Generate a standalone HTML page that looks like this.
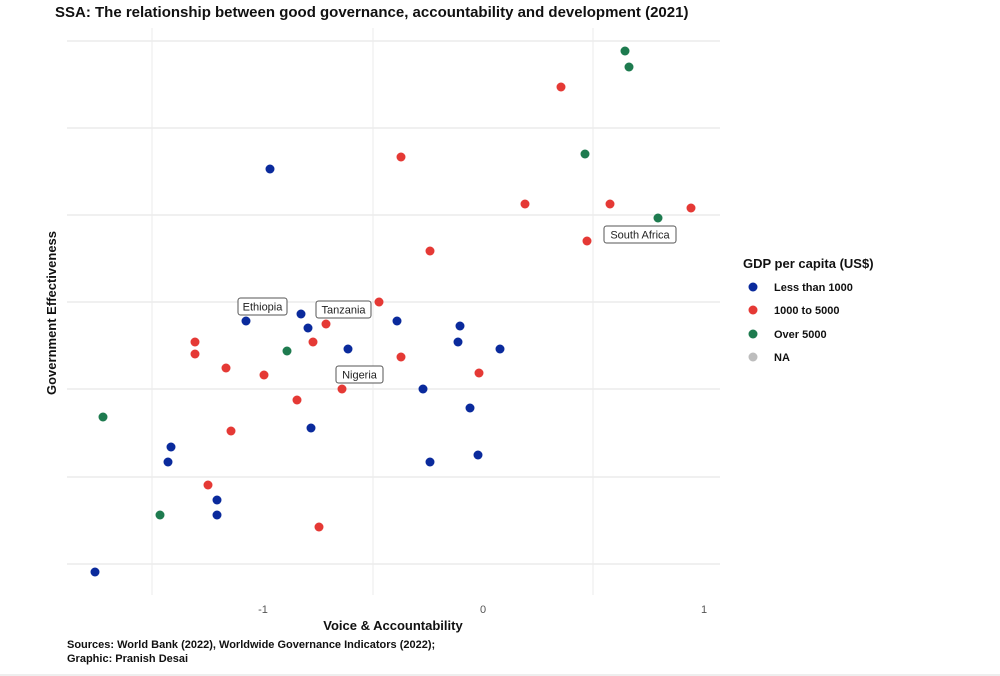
<!DOCTYPE html>
<html><head><style>body{margin:0;background:#fff;}svg{display:block;font-family:"Liberation Sans",Arial,sans-serif;}</style></head><body>
<svg width="1000" height="676" viewBox="0 0 1000 676" xmlns="http://www.w3.org/2000/svg">
<rect width="1000" height="676" fill="#fff"/>
<text x="55" y="17" font-size="15" font-weight="bold" fill="#111">SSA: The relationship between good governance, accountability and development (2021)</text>
<g stroke="#ebebeb" stroke-width="1">
<line x1="152" y1="28" x2="152" y2="595"/><line x1="373" y1="28" x2="373" y2="595"/><line x1="593" y1="28" x2="593" y2="595"/>
</g>
<g stroke="#ececec" stroke-width="1.5">
<line x1="67" y1="41" x2="720" y2="41"/><line x1="67" y1="128" x2="720" y2="128"/><line x1="67" y1="215" x2="720" y2="215"/><line x1="67" y1="302" x2="720" y2="302"/><line x1="67" y1="389" x2="720" y2="389"/><line x1="67" y1="477" x2="720" y2="477"/><line x1="67" y1="564" x2="720" y2="564"/>
</g>
<g fill="#1e7b4f">
<circle cx="625" cy="51" r="4.5"/><circle cx="629" cy="67" r="4.5"/><circle cx="585" cy="154" r="4.5"/><circle cx="658" cy="218" r="4.5"/><circle cx="287" cy="351" r="4.5"/><circle cx="103" cy="417" r="4.5"/><circle cx="160" cy="515" r="4.5"/>
</g>
<g fill="#e53935">
<circle cx="561" cy="87" r="4.5"/><circle cx="401" cy="157" r="4.5"/><circle cx="525" cy="204" r="4.5"/><circle cx="610" cy="204" r="4.5"/><circle cx="691" cy="208" r="4.5"/><circle cx="587" cy="241" r="4.5"/><circle cx="430" cy="251" r="4.5"/><circle cx="379" cy="302" r="4.5"/><circle cx="326" cy="324" r="4.5"/><circle cx="195" cy="342" r="4.5"/><circle cx="313" cy="342" r="4.5"/><circle cx="195" cy="354" r="4.5"/><circle cx="401" cy="357" r="4.5"/><circle cx="226" cy="368" r="4.5"/><circle cx="264" cy="375" r="4.5"/><circle cx="479" cy="373" r="4.5"/><circle cx="342" cy="389" r="4.5"/><circle cx="297" cy="400" r="4.5"/><circle cx="231" cy="431" r="4.5"/><circle cx="208" cy="485" r="4.5"/><circle cx="319" cy="527" r="4.5"/>
</g>
<g fill="#0a2a9c">
<circle cx="270" cy="169" r="4.5"/><circle cx="301" cy="314" r="4.5"/><circle cx="246" cy="321" r="4.5"/><circle cx="397" cy="321" r="4.5"/><circle cx="308" cy="328" r="4.5"/><circle cx="460" cy="326" r="4.5"/><circle cx="458" cy="342" r="4.5"/><circle cx="348" cy="349" r="4.5"/><circle cx="500" cy="349" r="4.5"/><circle cx="423" cy="389" r="4.5"/><circle cx="470" cy="408" r="4.5"/><circle cx="311" cy="428" r="4.5"/><circle cx="171" cy="447" r="4.5"/><circle cx="168" cy="462" r="4.5"/><circle cx="430" cy="462" r="4.5"/><circle cx="478" cy="455" r="4.5"/><circle cx="217" cy="500" r="4.5"/><circle cx="217" cy="515" r="4.5"/><circle cx="95" cy="572" r="4.5"/>
</g>
<g font-size="11" fill="#222">
<rect x="238" y="298" width="49" height="17" rx="2.5" fill="#fff" stroke="#555"/><text x="262.5" y="310.5" text-anchor="middle">Ethiopia</text>
<rect x="316" y="301" width="55" height="17" rx="2.5" fill="#fff" stroke="#555"/><text x="343.5" y="313.5" text-anchor="middle">Tanzania</text>
<rect x="336" y="366" width="47" height="17" rx="2.5" fill="#fff" stroke="#555"/><text x="359.5" y="378.5" text-anchor="middle">Nigeria</text>
<rect x="604" y="226" width="72" height="17" rx="2.5" fill="#fff" stroke="#555"/><text x="640" y="238.5" text-anchor="middle">South Africa</text>
</g>
<g font-size="11" fill="#555" text-anchor="middle">
<text x="263" y="613">-1</text><text x="483" y="613">0</text><text x="704" y="613">1</text>
</g>
<text x="393" y="630" font-size="13" font-weight="bold" text-anchor="middle" fill="#111">Voice &amp; Accountability</text>
<text transform="translate(56,313) rotate(-90)" font-size="13" font-weight="bold" text-anchor="middle" fill="#111">Government Effectiveness</text>
<text x="743" y="268" font-size="13" font-weight="bold" fill="#111">GDP per capita (US$)</text>
<g font-size="11" font-weight="bold" fill="#111">
<circle cx="753" cy="287" r="4.5" fill="#0a2a9c"/><text x="774" y="291">Less than 1000</text>
<circle cx="753" cy="310" r="4.5" fill="#e53935"/><text x="774" y="314">1000 to 5000</text>
<circle cx="753" cy="334" r="4.5" fill="#1e7b4f"/><text x="774" y="338">Over 5000</text>
<circle cx="753" cy="357" r="4.5" fill="#bdbdbd"/><text x="774" y="361">NA</text>
</g>
<g font-size="11" font-weight="bold" fill="#111">
<text x="67" y="648">Sources: World Bank (2022), Worldwide Governance Indicators (2022);</text>
<text x="67" y="662">Graphic: Pranish Desai</text>
</g>
<line x1="0" y1="675" x2="1000" y2="675" stroke="#ddd"/>
</svg>
</body></html>
